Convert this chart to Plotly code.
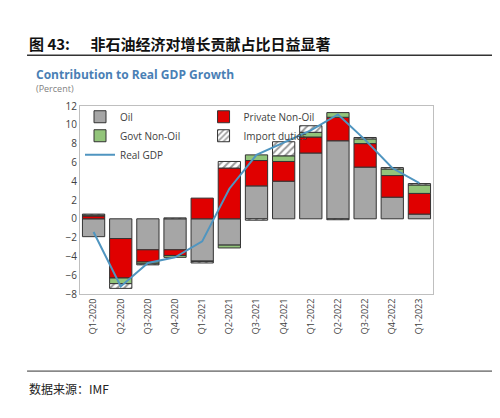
import plotly.graph_objects as go

quarters = ["Q1-2020","Q2-2020","Q3-2020","Q4-2020","Q1-2021","Q2-2021","Q3-2021","Q4-2021","Q1-2022","Q2-2022","Q3-2022","Q4-2022","Q1-2023"]
oil = [-1.9,-2.1,-3.3,-3.3,-4.5,-2.8,3.5,4.0,7.0,8.3,5.5,2.3,0.5]
private = [0.3,-4.2,-1.3,-0.6,2.2,5.4,2.7,2.1,1.7,2.5,2.5,2.3,2.2]
govt = [0.1,-0.6,-0.2,-0.2,-0.05,-0.3,0.6,0.6,0.5,0.5,0.5,0.7,0.9]
imports = [0.1,-0.5,-0.1,0.1,-0.15,0.7,-0.15,1.5,0.7,-0.1,0.15,0.15,0.15]
real_gdp = [-1.4,-7.2,-4.7,-4.1,-2.4,3.2,6.8,8.1,9.4,11.1,8.4,5.4,3.8]

line = dict(color="#333333", width=1)
fig = go.Figure()
fig.add_bar(x=quarters, y=oil, name="Oil", marker=dict(color="#a6a6a6", line=line))
fig.add_bar(x=quarters, y=private, name="Private Non-Oil", marker=dict(color="#e00000", line=line))
fig.add_bar(x=quarters, y=govt, name="Govt Non-Oil", marker=dict(color="#92c47a", line=line))
fig.add_bar(x=quarters, y=imports, name="Import duties",
            marker=dict(color="white", line=line, pattern=dict(shape="/", fgcolor="#333333", size=5, solidity=0.4)))
fig.add_scatter(x=quarters, y=real_gdp, name="Real GDP", mode="lines", line=dict(color="#4f95c0", width=2))

fig.update_layout(
    barmode="relative", bargap=0.18, width=500, height=418,
    paper_bgcolor="white", plot_bgcolor="white",
    margin=dict(l=72, r=75, t=98, b=132),
    font=dict(family="Open Sans", size=10, color="#404040"),
    legend=dict(orientation="h", x=0.0, y=1.02, xanchor="left", yanchor="top",
                entrywidthmode="fraction", entrywidth=0.35, bgcolor="rgba(0,0,0,0)",
                font=dict(size=10), tracegroupgap=0, itemwidth=30),
    showlegend=True,
)
fig.update_xaxes(tickangle=-90, showline=True, linecolor="#bfbfbf", mirror=True, tickfont=dict(size=9))
fig.update_yaxes(range=[-8, 12], dtick=2, showline=True, linecolor="#bfbfbf", mirror=True,
                 showgrid=False, zeroline=False, ticks="", tickfont=dict(size=10))

fig.add_annotation(xref="paper", yref="paper", x=-0.15, y=1.33, xanchor="left", yanchor="middle",
                   text="<b>图 43:      非石油经济对增长贡献占比日益显著</b>", showarrow=False,
                   font=dict(family="Noto Sans CJK SC", size=15, color="#111111"))
fig.add_shape(type="line", xref="paper", yref="paper", x0=-0.15, x1=1.27, y0=1.27, y1=1.27,
              line=dict(color="#333333", width=1.5))
fig.add_annotation(xref="paper", yref="paper", x=-0.13, y=1.165, xanchor="left", yanchor="middle",
                   text="<b>Contribution to Real GDP Growth</b>", showarrow=False,
                   font=dict(size=12, color="#4a7fb5"))
fig.add_annotation(xref="paper", yref="paper", x=-0.13, y=1.095, xanchor="left", yanchor="middle",
                   text="(Percent)", showarrow=False, font=dict(size=9, color="#7f7f7f"))
fig.add_shape(type="line", xref="paper", yref="paper", x0=-0.15, x1=1.27, y0=-0.41, y1=-0.41,
              line=dict(color="#333333", width=1))
fig.add_annotation(xref="paper", yref="paper", x=-0.15, y=-0.50, xanchor="left", yanchor="middle",
                   text="数据来源：IMF", showarrow=False,
                   font=dict(family="Noto Sans CJK SC", size=12, color="#222222"))
fig.write_html("out.html")
